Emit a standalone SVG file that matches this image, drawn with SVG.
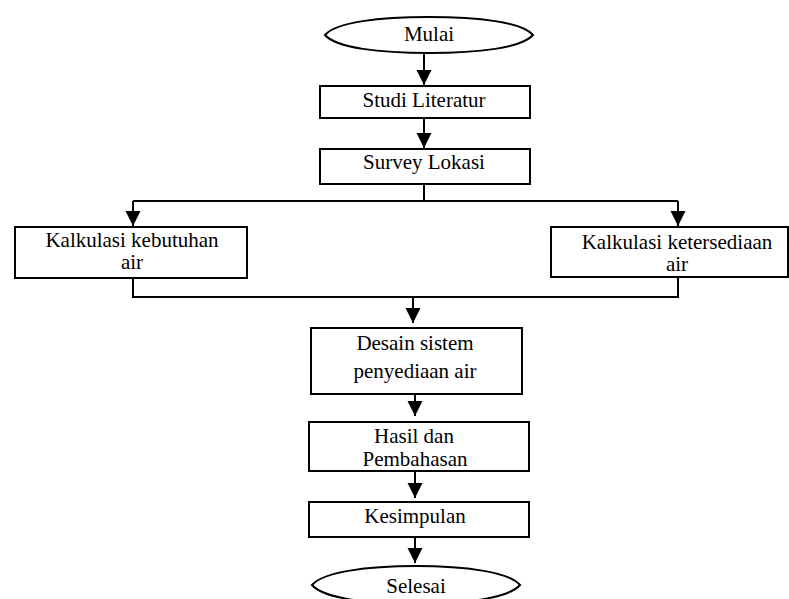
<svg xmlns="http://www.w3.org/2000/svg" width="789" height="599" viewBox="0 0 789 599">
<style>
.box{fill:#fff;stroke:#000;stroke-width:2}
.term{fill:#fff;stroke:#000;stroke-width:2}
.t{font-family:"Liberation Serif","Times New Roman",serif;font-size:21px;fill:#000;text-anchor:middle}
.c{fill:none;stroke:#000;stroke-width:2}
.a{fill:none;stroke:#000;stroke-width:2;marker-end:url(#ah)}
</style>
<defs>
<marker id="ah" markerUnits="userSpaceOnUse" markerWidth="15" markerHeight="16" refX="15" refY="7.5" orient="auto">
<path d="M0,0 L15,7.5 L0,15 Z" fill="#000"/>
</marker>
</defs>
<rect width="789" height="599" fill="#fff"/>
<g id="connectors">
<path class="a" d="M424,53 V85"/>
<path class="a" d="M424,118 V148"/>
<path class="c" d="M424,184 V201 M133,201 H678"/>
<path class="a" d="M133,201 V226"/>
<path class="a" d="M678,201 V226"/>
<path class="c" d="M133,278 V297 H678 V277"/>
<path class="a" d="M413,297 V323"/>
<path class="a" d="M415,394 V416"/>
<path class="a" d="M415,471 V498"/>
<path class="a" d="M415,537 V563"/>
</g>
<g id="mulai">
<path class="term" d="M325,35 C336,22 380,17 429,17 C478,17 522,22 533,35 C522,48 478,53 429,53 C380,53 336,48 325,35 Z"/>
<text class="t" x="429" y="41">Mulai</text>
</g>
<g id="studi">
<rect class="box" x="320" y="86" width="210" height="32"/>
<text class="t" x="424" y="107">Studi Literatur</text>
</g>
<g id="survey">
<rect class="box" x="320" y="149" width="210" height="35"/>
<text class="t" x="424" y="169">Survey Lokasi</text>
</g>
<g id="kebutuhan">
<rect class="box" x="15" y="227" width="232" height="51"/>
<text class="t" x="132" y="247">Kalkulasi kebutuhan</text>
<text class="t" x="132" y="269">air</text>
</g>
<g id="ketersediaan">
<rect class="box" x="551" y="227" width="237" height="50"/>
<text class="t" x="677" y="249">Kalkulasi ketersediaan</text>
<text class="t" x="677" y="271">air</text>
</g>
<g id="desain">
<rect class="box" x="311" y="328" width="211" height="66"/>
<text class="t" x="415" y="350">Desain sistem</text>
<text class="t" x="415" y="378">penyediaan air</text>
</g>
<g id="hasil">
<rect class="box" x="309" y="422" width="220" height="49"/>
<text class="t" x="414" y="443">Hasil dan</text>
<text class="t" x="415" y="466">Pembahasan</text>
</g>
<g id="kesimpulan">
<rect class="box" x="309" y="502" width="220" height="35"/>
<text class="t" x="415" y="523">Kesimpulan</text>
</g>
<g id="selesai">
<path class="term" d="M312,585 C323,572 367,566 416,566 C465,566 509,572 520,585 C509,598 465,604 416,604 C367,604 323,598 312,585 Z"/>
<text class="t" x="416" y="593">Selesai</text>
</g>
</svg>
